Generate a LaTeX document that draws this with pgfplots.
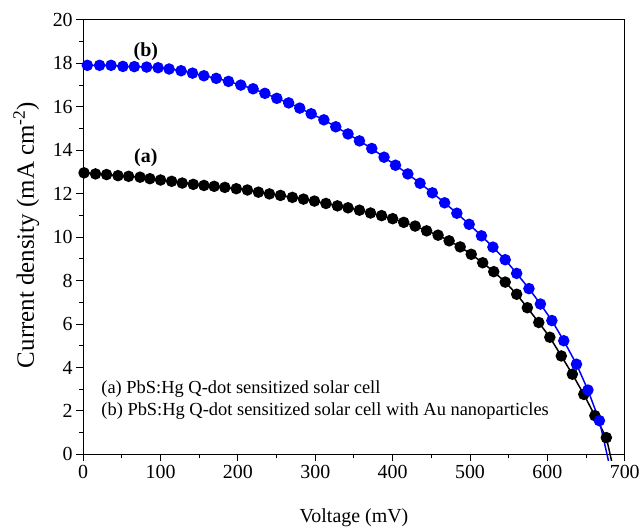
\documentclass[border=0pt]{standalone}
\usepackage{pgfplots}
\pgfplotsset{compat=1.18}
\usepackage{fontspec}
\setmainfont{Liberation Serif}

\pgfplotstableread{
x y
1.1 12.96
15.9 12.91
30.2 12.88
45.0 12.83
58.7 12.80
73.5 12.76
86.2 12.69
100.0 12.63
114.3 12.57
128.0 12.49
142.3 12.43
156.1 12.38
169.3 12.34
183.1 12.29
197.9 12.23
212.2 12.17
226.5 12.07
240.7 11.99
255.0 11.92
270.4 11.83
284.7 11.75
298.9 11.66
313.8 11.55
328.6 11.44
342.3 11.35
357.1 11.24
371.4 11.11
385.7 10.99
400.0 10.85
414.3 10.68
429.1 10.51
443.9 10.29
458.7 10.09
473.0 9.83
487.3 9.55
501.6 9.21
516.4 8.82
530.7 8.41
545.5 7.93
560.3 7.37
574.1 6.75
588.9 6.07
603.2 5.39
618.0 4.53
632.3 3.69
647.1 2.76
661.4 1.78
676.2 0.77
}\cella

\pgfplotstableread{
x y
5.3 17.91
21.2 17.91
36.0 17.91
51.3 17.86
66.1 17.85
82.0 17.83
96.8 17.80
111.0 17.74
126.5 17.66
141.3 17.55
156.0 17.43
172.0 17.31
187.8 17.17
203.7 17.00
219.6 16.83
234.9 16.62
250.3 16.39
265.6 16.18
279.9 15.94
294.7 15.68
311.1 15.40
326.5 15.08
342.3 14.75
357.1 14.43
373.0 14.08
388.9 13.68
403.7 13.31
419.6 12.91
435.4 12.48
451.3 12.04
467.2 11.58
483.0 11.10
498.9 10.59
514.8 10.06
529.6 9.54
545.5 8.96
560.3 8.33
576.2 7.63
591.0 6.92
605.8 6.16
621.2 5.23
637.6 4.15
652.4 2.96
667.2 1.55
}\cellb

\begin{document}
\begin{tikzpicture}
\begin{axis}[
  width=543.5pt, height=436pt, scale only axis,
  xmin=0, xmax=700, ymin=0, ymax=20,
  xtick={0,100,...,700}, ytick={0,2,...,20},
  minor x tick num=1, minor y tick num=1,
  tick align=outside, tick pos=left,
  major tick length=7pt, minor tick length=4pt,
  every tick/.style={black, line width=1pt},
  axis line style={line width=1pt},
  tick label style={font=\fontsize{20}{20}\selectfont},
  /pgf/number format/assume math mode=true,
  xlabel={Voltage (mV)},
  xlabel style={font=\fontsize{20}{20}\selectfont, at={(axis description cs:0.5,-0.146)}, anchor=center},
  ylabel={Current density (mA cm\textsuperscript{-2})},
  ylabel style={font=\fontsize{25}{25}\selectfont, at={(axis description cs:-0.105,0.505)}, anchor=center},
  clip=false,
]
\addplot[black, line width=1.5pt, mark=*, mark size=5pt] table {\cella};
\addplot[black, line width=1.5pt, forget plot] coordinates {(676.2,0.77)(683,-0.3)};
\addplot[blue, line width=1.5pt, mark=*, mark size=5pt, mark options={fill=blue, draw=blue}] table {\cellb};
\addplot[blue, line width=1.5pt, forget plot] coordinates {(667.2,1.55)(679,-0.3)};
\node[font=\bfseries\fontsize{20}{20}\selectfont] at (axis cs:81,18.55) {(b)};
\node[font=\bfseries\fontsize{20}{20}\selectfont] at (axis cs:81,13.65) {(a)};
\node[anchor=west, font=\fontsize{18.5}{18.5}\selectfont] at (axis cs:19,3.0) {(a) PbS:Hg Q-dot sensitized solar cell};
\node[anchor=west, font=\fontsize{18.5}{18.5}\selectfont] at (axis cs:19,2.0) {(b) PbS:Hg Q-dot sensitized solar cell with Au nanoparticles};
\end{axis}
\path (current axis.south west) ++(-83.5pt,-74pt) (current axis.north east) ++(16pt,20pt);
\end{tikzpicture}
\end{document}
